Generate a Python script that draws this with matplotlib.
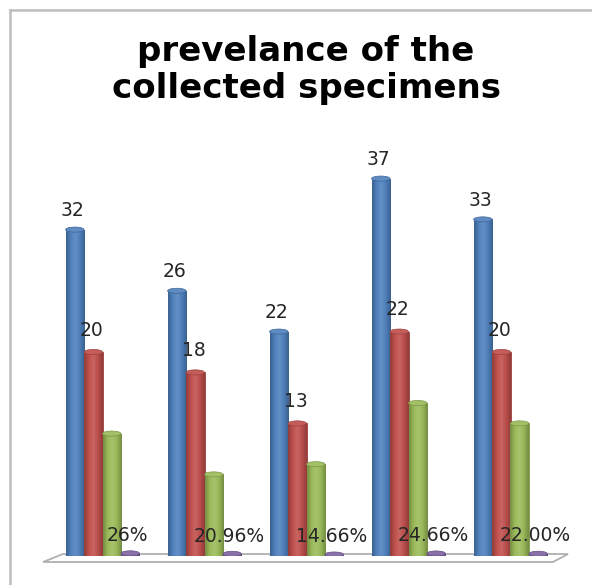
import numpy as np
import matplotlib.pyplot as plt
from matplotlib.patches import Ellipse, Polygon
from matplotlib.lines import Line2D
from matplotlib.colors import LinearSegmentedColormap, to_rgb

# specimens per site
total = [32, 26, 22, 37, 33]
series_b = [20, 18, 13, 22, 20]
series_c = [12, 8, 9, 15, 13]
prevalence = [26, 20.96, 14.66, 24.66, 22.00]
prevalence_labels = ['26%', '20.96%', '14.66%', '24.66%', '22.00%']

colors = ['#4F81BD', '#C0504D', '#9BBB59', '#8064A2']

W, H = 592, 585
fig = plt.figure(figsize=(W / 100, H / 100), dpi=100)
fig.patch.set_facecolor('white')

ax = fig.add_axes([51.5 / W, (H - 556) / H, 510 / W, 408 / H])
ax.set_xlim(-0.5, 4.5)
ax.set_ylim(0, 40)
ax.axis('off')

# floor of the 3d plot area
floor = [(43, 562), (553, 562), (568, 554), (63, 554)]
fig.add_artist(Polygon([(x / W, 1 - y / H) for x, y in floor], closed=True,
                       transform=fig.transFigure, facecolor='white',
                       edgecolor='#b0b0b0', lw=1.3, zorder=0))

# chart border
fig.add_artist(Line2D([10 / W, 10 / W], [0, 1 - 10 / H], transform=fig.transFigure,
                      color='#bdbdbd', lw=1.8))
fig.add_artist(Line2D([10 / W, 1], [1 - 10 / H, 1 - 10 / H], transform=fig.transFigure,
                      color='#bdbdbd', lw=1.8))


def shade(c, f):
    r = np.array(to_rgb(c))
    return tuple(np.clip(r * f if f < 1 else r + (1 - r) * (f - 1), 0, 1))


x = np.arange(len(total))
w = 0.181
offsets = [-1.5 * w, -0.5 * w, 0.5 * w, 1.5 * w]
series = [total, series_b, series_c, [p / 100 for p in prevalence]]
grad = np.linspace(0, 1, 64).reshape(1, -1)

for vals, off, c in zip(series, offsets, colors):
    bars = ax.bar(x + off, vals, width=w, color=c, edgecolor=shade(c, 0.8),
                  lw=0.6, zorder=2)
    cmap = LinearSegmentedColormap.from_list(
        'cyl', [shade(c, 0.75), shade(c, 1.0), shade(c, 1.12), shade(c, 0.97), shade(c, 0.75)])
    for b in bars:
        x0, h = b.get_x(), b.get_height()
        im = ax.imshow(grad, cmap=cmap, aspect='auto', extent=(x0, x0 + w, 0, h),
                       zorder=2.1, interpolation='bicubic')
        im.set_clip_path(b)
        cx = x0 + w / 2
        ax.add_patch(Ellipse((cx, 0), w, 0.5, facecolor=shade(c, 0.85), lw=0, zorder=1.9))
        ax.add_patch(Ellipse((cx, h), w, 0.5, facecolor=shade(c, 1.08),
                             edgecolor=shade(c, 0.8), lw=0.5, zorder=2.2))
    ax.set_xlim(-0.5, 4.5)
    ax.set_ylim(0, 40)

label_kw = dict(textcoords='offset points', ha='center', va='bottom',
                fontsize=13.5, color='#262626', family='DejaVu Sans', zorder=5,
                annotation_clip=False)
for i in range(len(total)):
    ax.annotate(str(total[i]), (x[i] + offsets[0], total[i]), xytext=(-2, 7), **label_kw)
    ax.annotate(str(series_b[i]), (x[i] + offsets[1], series_b[i]), xytext=(-1, 9), **label_kw)
    ax.annotate(prevalence_labels[i], (x[i] + offsets[3], prevalence[i] / 100),
                xytext=(-2, 6), **label_kw)

fig.text(306 / W, 1 - 70 / H, 'prevelance of the\ncollected specimens',
         ha='center', va='center', fontsize=24.5, fontweight='bold',
         family='DejaVu Sans', linespacing=1.12, color='black')

fig.savefig('out.png', dpi=100, facecolor='white')
